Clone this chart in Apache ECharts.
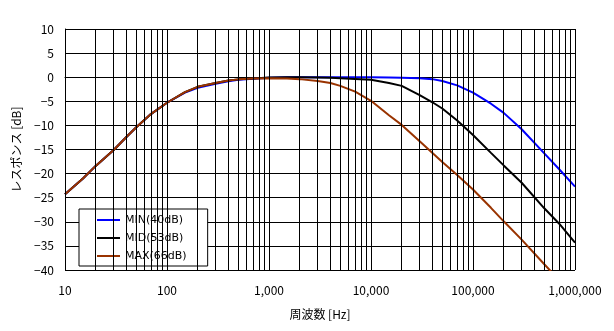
<!DOCTYPE html>
<html>
<head>
<meta charset="utf-8">
<script src="https://cdn.jsdelivr.net/npm/echarts@6/dist/echarts.min.js"></script>
<style>
  html, body { margin: 0; padding: 0; background: #fff; }
  #chart { width: 614px; height: 331px; }
</style>
</head>
<body>
<div id="chart"></div>
<script>
// Frequency response of the three volume settings
const freqs = [10, 15, 20, 30, 40, 50, 70, 100, 150, 200, 300, 400, 500, 700,
  1000, 1500, 2000, 3000, 4000, 5000, 7000, 10000, 15000, 20000, 30000, 40000,
  50000, 70000, 100000, 150000, 200000, 300000, 500000, 700000, 1000000];

const minResp = [-24.3, -21.0, -18.4, -15.1, -12.4, -10.4, -7.6, -5.3, -3.2, -2.2, -1.35, -0.85, -0.55, -0.3,
  -0.1, 0, 0, 0, 0, 0, 0, 0, -0.05, -0.1, -0.2, -0.4,
  -0.8, -1.7, -3.2, -5.5, -7.4, -10.8, -15.8, -19.1, -22.7];

const midResp = [-24.3, -21.0, -18.4, -15.1, -12.4, -10.4, -7.6, -5.3, -3.1, -2.0, -1.2, -0.7, -0.45, -0.25,
  -0.05, 0, 0, -0.05, -0.1, -0.2, -0.35, -0.55, -1.2, -1.8, -3.7, -5.2,
  -6.5, -9.0, -12.0, -15.7, -18.3, -21.9, -27.2, -30.4, -34.3];

const maxFreqs = [10, 15, 20, 30, 40, 50, 70, 100, 150, 200, 300, 400, 500, 700,
  1000, 1500, 2000, 3000, 4000, 5000, 7000, 10000, 15000, 20000, 30000, 50000,
  70000, 100000, 150000, 200000, 300000, 500000, 600000];
const maxResp = [-24.3, -21.0, -18.4, -15.1, -12.4, -10.4, -7.6, -5.3, -3.1, -2.0, -1.2, -0.7, -0.45, -0.25,
  -0.2, -0.25, -0.4, -0.8, -1.2, -1.8, -3.0, -4.9, -7.9, -9.9, -13.3, -17.6,
  -20.3, -23.3, -27.1, -29.9, -33.7, -38.8, -40.6];

const seriesNames = ['MIN(40dB)', 'MID(53dB)', 'MAX(66dB)'];
const seriesColors = ['#0000ff', '#000000', '#993300'];

// Log grid: decades plus the 2..9 lines inside each decade
const gridFreqs = [];
for (let d = 10; d < 1000000; d *= 10) {
  for (let k = 1; k <= 9; k++) gridFreqs.push(k * d);
}
gridFreqs.push(1000000);

const FONT = '"Noto Sans CJK JP", "Noto Sans", sans-serif';
const LEGEND_FONT = '"DejaVu Sans", "Noto Sans", sans-serif';

function pairs(xs, ys) { return xs.map((x, i) => [x, ys[i]]); }
function withCommas(v) {
  return String(Math.round(v)).replace(/\B(?=(\d{3})+(?!\d))/g, ',');
}

const chart = echarts.init(document.getElementById('chart'), null, { renderer: 'canvas' });

const lineSeries = (name, color, data) => ({
  name: name,
  type: 'line',
  data: data,
  showSymbol: false,
  symbol: 'none',
  smooth: false,
  clip: true,
  lineStyle: { color: color, width: 2 },
  itemStyle: { color: color },
  silent: true
});

chart.setOption({
  animation: false,
  backgroundColor: '#ffffff',
  grid: { left: 65, right: 39, top: 29, bottom: 61, containLabel: false },
  xAxis: {
    type: 'log',
    logBase: 10,
    min: 10,
    max: 1000000,
    name: '周波数 [Hz]',
    nameLocation: 'middle',
    nameGap: 38,
    nameTextStyle: { color: '#000', fontFamily: FONT, fontSize: 12 },
    axisLine: { show: true, lineStyle: { color: '#000', width: 1 } },
    axisTick: { show: false },
    axisLabel: { color: '#000', fontFamily: FONT, fontSize: 12, margin: 14, formatter: withCommas },
    splitLine: { show: true, lineStyle: { color: '#000', width: 1 } },
    minorTick: { show: false },
    minorSplitLine: { show: false }
  },
  yAxis: {
    type: 'value',
    min: -40,
    max: 10,
    interval: 5,
    name: 'レスポンス [dB]',
    nameLocation: 'middle',
    nameGap: 43,
    nameTextStyle: { color: '#000', fontFamily: FONT, fontSize: 12 },
    axisLine: { show: true, lineStyle: { color: '#000', width: 1 } },
    axisTick: { show: false },
    axisLabel: {
      color: '#000', fontFamily: FONT, fontSize: 12, margin: 11,
      formatter: v => String(v).replace('-', '−')
    },
    splitLine: { show: true, lineStyle: { color: '#000', width: 1 } }
  },
  legend: {
    data: seriesNames,
    orient: 'vertical',
    left: 79,
    top: 209,
    backgroundColor: '#ffffff',
    borderColor: '#000000',
    borderWidth: 1,
    padding: [4, 21, 3, 18],
    itemWidth: 23,
    itemHeight: 2,
    itemGap: 4,
    icon: 'rect',
    selectedMode: false,
    textStyle: { color: '#000', fontFamily: LEGEND_FONT, fontSize: 11, lineHeight: 14 }
  },
  series: [
    {
      name: 'grid',
      type: 'line',
      data: [],
      silent: true,
      markLine: {
        silent: true,
        symbol: ['none', 'none'],
        label: { show: false },
        lineStyle: { color: '#000', width: 1, type: 'solid' },
        data: gridFreqs.map(f => ({ xAxis: f }))
      }
    },
    lineSeries(seriesNames[0], seriesColors[0], pairs(freqs, minResp)),
    lineSeries(seriesNames[1], seriesColors[1], pairs(freqs, midResp)),
    lineSeries(seriesNames[2], seriesColors[2], pairs(maxFreqs, maxResp))
  ]
});
</script>
</body>
</html>
